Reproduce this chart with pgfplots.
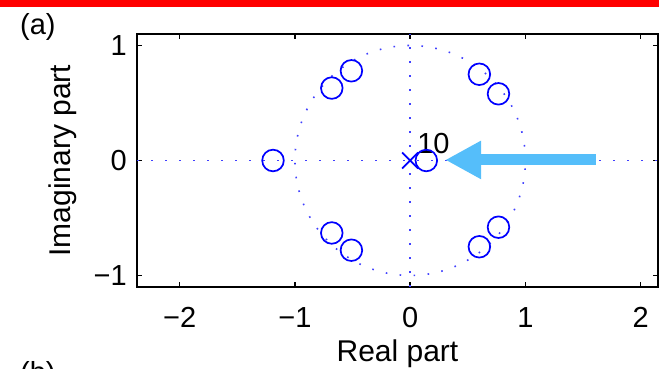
\documentclass[border=0pt]{standalone}
\usepackage{fontspec}
\setmainfont{Liberation Sans}
\usepackage{pgfplots}
\pgfplotsset{compat=1.18}
\usetikzlibrary{arrows.meta}
\definecolor{arrowblue}{RGB}{85,190,250}
\definecolor{mblue}{RGB}{0,0,255}
\newcommand{\bigf}{\fontsize{29}{34}\selectfont}
\tikzset{dotline/.style={mblue!75!white, line width=1.6pt, dash pattern=on 1.6pt off 12.4pt}}
\begin{document}
\begin{tikzpicture}
\useasboundingbox (0,0) rectangle (659pt,368pt);
\clip (0,0) rectangle (659pt,368pt);
\fill[red] (0,361pt) rectangle (659pt,368pt);
\node[anchor=base west, inner sep=0, font=\bigf] at (20pt,334pt) {(a)};
\node[anchor=base west, inner sep=0, font=\bigf] at (20pt,-14pt) {(b)};
\begin{axis}[
  at={(137pt,81pt)}, anchor=south west,
  scale only axis, width=521pt, height=253pt,
  xmin=-2.37, xmax=2.15, ymin=-1.1, ymax=1.1,
  xtick={-2,-1,0,1,2}, xticklabels={−2,−1,0,1,2},
  ytick={-1,0,1}, yticklabels={−1,0,1},
  tick align=inside, major tick length=5pt,
  every tick/.style={black, line width=1.4pt},
  axis line style={black, line width=2.4pt},
  tick label style={font=\bigf, black},
  xticklabel style={anchor=north, inner sep=0pt, yshift=-20pt},
  yticklabel style={anchor=east, inner sep=0pt, xshift=-10pt},
  xlabel={Real part}, ylabel={Imaginary part},
  label style={font=\fontsize{30}{34}\selectfont},
  xlabel style={at={(axis description cs:0.5,-0.2925)}, anchor=base},
  ylabel style={at={(axis description cs:-0.1267,0.5)}, anchor=base},
]
\draw[dotline] (axis cs:0,0) ellipse [x radius=1, y radius=1];
\draw[dotline] (axis cs:-2.37,0) -- (axis cs:2.15,0);
\draw[dotline] (axis cs:0,-1.1) -- (axis cs:0,1.1);
\addplot[only marks, mark=o, mark size=10.8pt, mblue, line width=1.7pt] coordinates {
(-1.19,0) (0.14,0)
(-0.51,0.78) (-0.68,0.63) (-0.51,-0.78) (-0.68,-0.63)
(0.60,0.75) (0.766,0.58) (0.60,-0.75) (0.766,-0.58)
};
\addplot[only marks, mark=x, mark size=11.3pt, mblue, line width=1.7pt] coordinates {(0,0)};
\node[anchor=base west, inner sep=0, font=\bigf] at (axis cs:0.06,0.06) {10};
\addplot[arrowblue, line width=11pt, -{Triangle[length=36pt, width=36pt]}] coordinates {(1.611,0.005) (0.304,0.005)};
\end{axis}
\end{tikzpicture}
\end{document}
